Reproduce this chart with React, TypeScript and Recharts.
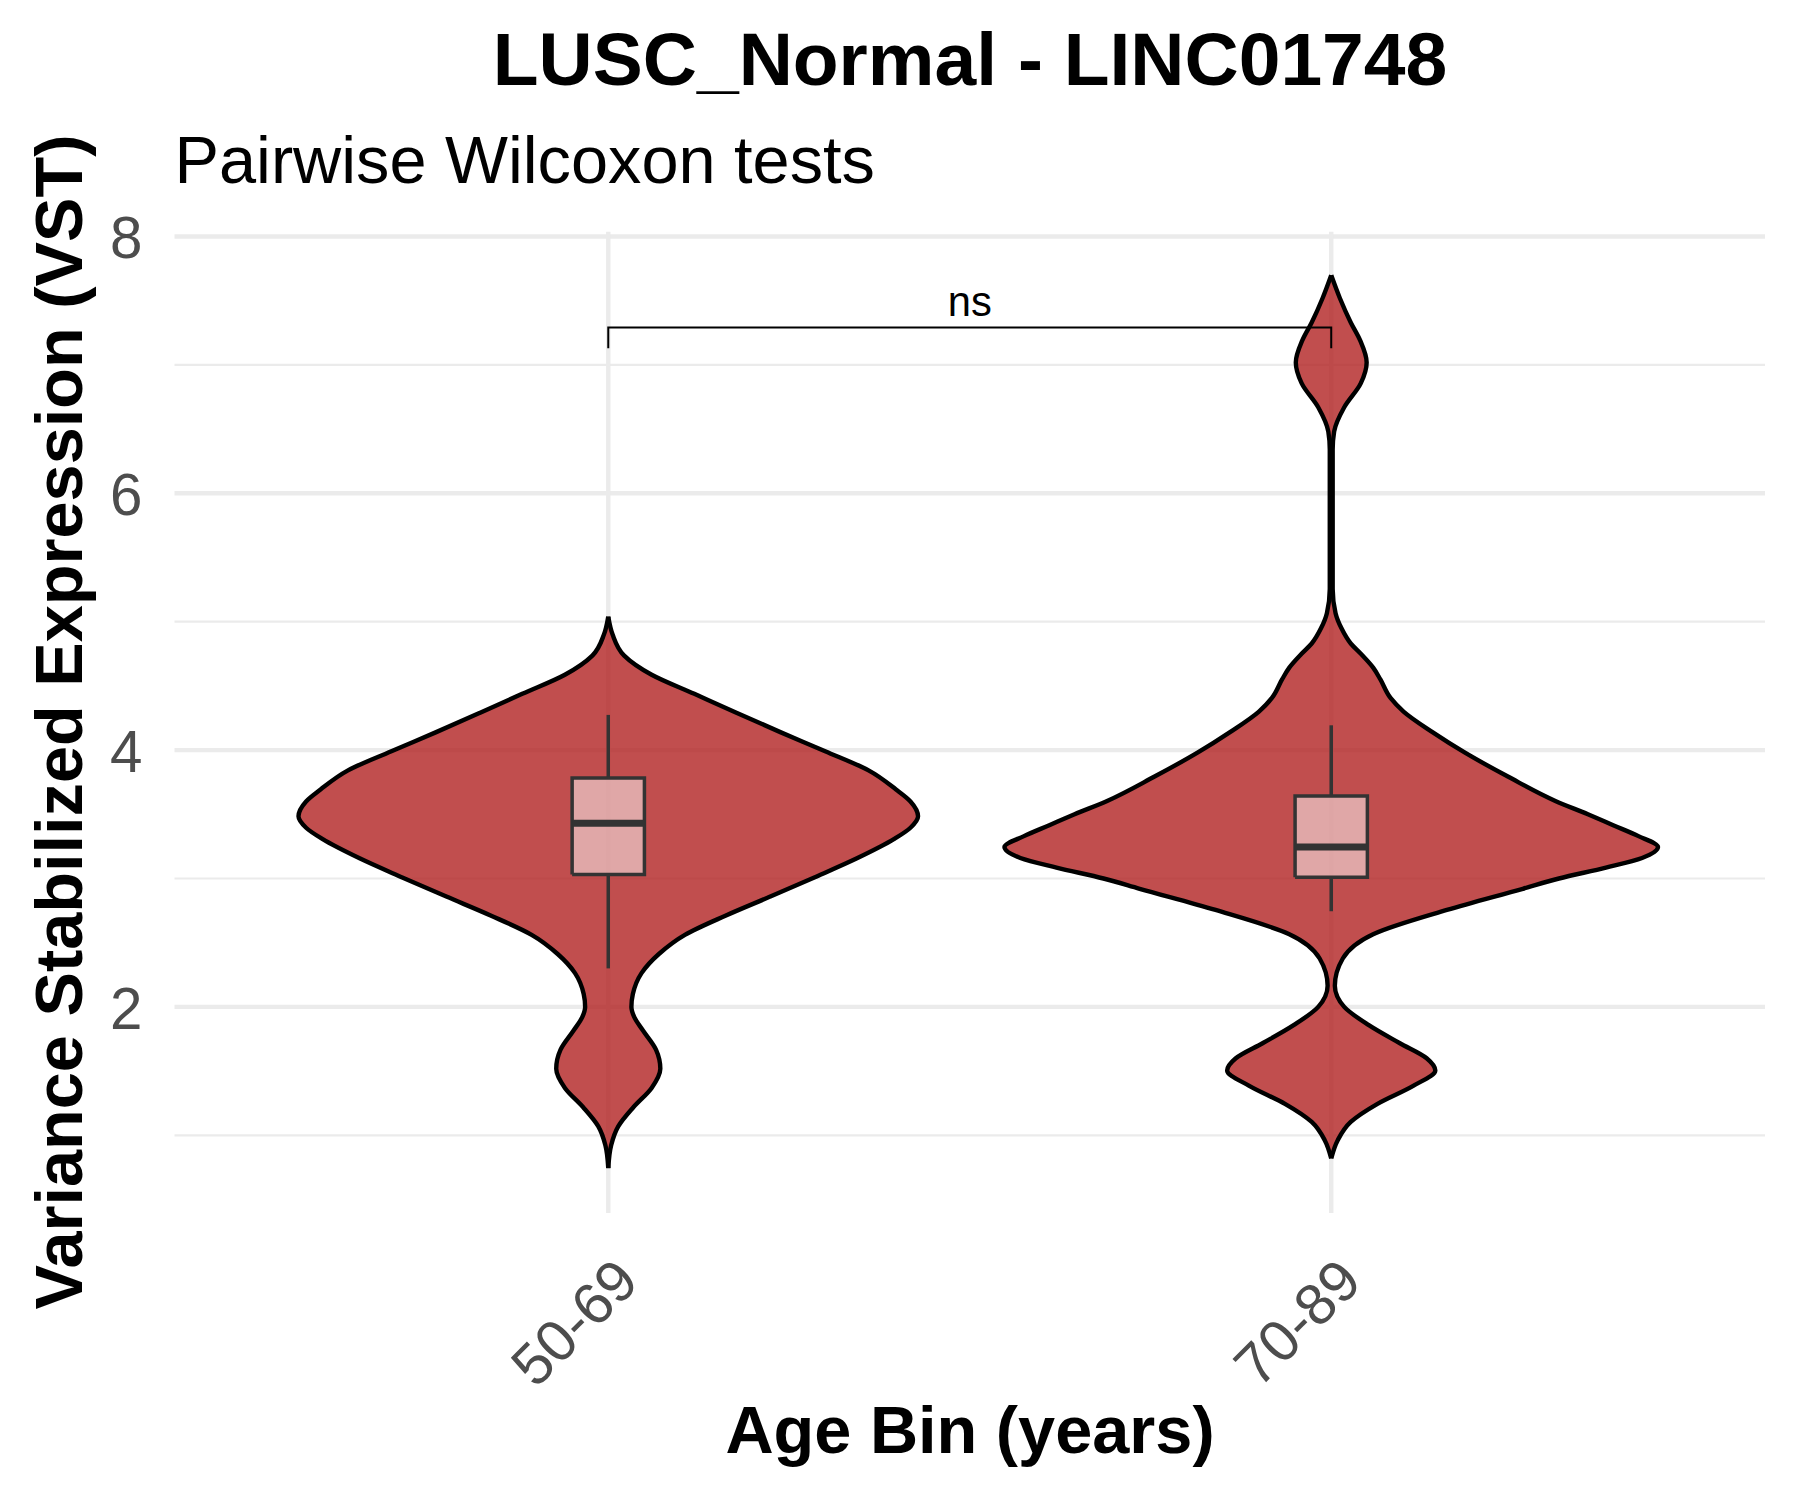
import React from 'react';
import {
  ComposedChart,
  Area,
  Line,
  XAxis,
  YAxis,
  CartesianGrid,
  ReferenceDot,
  Customized,
} from 'recharts';

// ---------- data ----------
const categories = ['50-69', '70-89'];
const categoryPositions = [1, 2];

const yTicks = [2, 4, 6, 8];
const yMinorTicks = [1, 3, 5, 7];

// violin outlines: expression value and half-width (in category units)
const violin1Values = [0.745, 0.922, 1.071, 1.22, 1.369, 1.518, 1.667, 1.816, 1.92, 2.0, 2.1, 2.263, 2.412, 2.561, 2.71, 2.859, 3.008, 3.157, 3.306, 3.395, 3.484, 3.6, 3.693, 3.842, 3.991, 4.14, 4.289, 4.438, 4.587, 4.736, 4.9, 5.04];
const violin1HalfWidths = [0, 0.004, 0.014, 0.035, 0.06, 0.072, 0.066, 0.048, 0.036, 0.032, 0.034, 0.046, 0.07, 0.106, 0.162, 0.224, 0.285, 0.344, 0.395, 0.418, 0.4285, 0.418, 0.398, 0.36, 0.3, 0.238, 0.178, 0.119, 0.06, 0.022, 0.006, 0];

const violin2Values = [0.82, 0.962, 1.104, 1.245, 1.387, 1.505, 1.6, 1.717, 1.858, 2.0, 2.165, 2.377, 2.566, 2.755, 2.92, 3.0, 3.085, 3.16, 3.245, 3.33, 3.415, 3.5, 3.604, 3.792, 3.98, 4.14, 4.3, 4.406, 4.55, 4.642, 4.75, 4.83, 4.95, 5.066, 5.255, 6.34, 6.48, 6.67, 6.858, 7.019, 7.19, 7.33, 7.519, 7.698];
const violin2HalfWidths = [0, 0.009, 0.027, 0.064, 0.114, 0.144, 0.132, 0.095, 0.052, 0.018, 0.005, 0.016, 0.058, 0.16, 0.265, 0.315, 0.38, 0.43, 0.452, 0.425, 0.39, 0.355, 0.31, 0.245, 0.185, 0.14, 0.1, 0.082, 0.068, 0.058, 0.041, 0.027, 0.014, 0.006, 0.002, 0.002, 0.004, 0.018, 0.041, 0.049, 0.04, 0.027, 0.012, 0];

// box plot statistics per group: [lower whisker, Q1, median, Q3, upper whisker]
const boxStats1 = [2.3, 3.032, 3.43, 3.782, 4.274];
const boxStats2 = [2.745, 3.009, 3.245, 3.642, 4.193];
const boxHalfWidth = 0.05;

// significance bracket
const bracketGroups = [1, 2];
const bracketLevels = [7.13, 7.29];
const bracketLabel = 'ns';

// ---------- styling ----------
const FONT = '"Liberation Sans", Arial, Helvetica, sans-serif';
const VIOLIN_FILL = '#B22222';
const GRID = '#EBEBEB';
const TICK_COLOR = '#4D4D4D';
const BOX_LINE = '#333333';

// ---------- derived tables ----------
const makeViolin = (values: number[], hws: number[], center: number) =>
  values.map((v, i) => ({ y: v, range: [center - hws[i], center + hws[i]] }));

const makeBoxFill = (s: number[], c: number) => [
  { y: s[1], box: [c - boxHalfWidth, c + boxHalfWidth] },
  { y: s[3], box: [c - boxHalfWidth, c + boxHalfWidth] },
];
const makeBoxOutline = (s: number[], c: number) => [
  { y: s[1], x: c - boxHalfWidth },
  { y: s[1], x: c + boxHalfWidth },
  { y: s[3], x: c + boxHalfWidth },
  { y: s[3], x: c - boxHalfWidth },
  { y: s[1], x: c - boxHalfWidth },
];
const makeLowerWhisker = (s: number[], c: number) => [
  { y: s[0], x: c },
  { y: s[1], x: c },
];
const makeUpperWhisker = (s: number[], c: number) => [
  { y: s[3], x: c },
  { y: s[4], x: c },
];
const makeMedian = (s: number[], c: number) => [
  { y: s[2], x: c - boxHalfWidth },
  { y: s[2], x: c + boxHalfWidth },
];

const violinData = [
  makeViolin(violin1Values, violin1HalfWidths, categoryPositions[0]),
  makeViolin(violin2Values, violin2HalfWidths, categoryPositions[1]),
];
const boxes = [boxStats1, boxStats2];

const bracketData = [
  { y: bracketLevels[0], x: bracketGroups[0] },
  { y: bracketLevels[1], x: bracketGroups[0] },
  { y: bracketLevels[1], x: bracketGroups[1] },
  { y: bracketLevels[0], x: bracketGroups[1] },
];

// ---------- custom ticks ----------
const XTick = (props: any) => {
  const { x, y, payload } = props;
  const idx = categoryPositions.indexOf(payload.value);
  const label = idx >= 0 ? categories[idx] : '';
  const ax = x + 33;
  const ay = y + 71;
  return (
    <text
      x={ax}
      y={ay}
      textAnchor="end"
      transform={`rotate(-45, ${ax}, ${ay})`}
      fontSize={58.3}
      fill={TICK_COLOR}
      fontFamily={FONT}
    >
      {label}
    </text>
  );
};

const YTick = (props: any) => {
  const { x, y, payload } = props;
  return (
    <text x={x} y={y} dy={22} textAnchor="end" fontSize={58.3} fill={TICK_COLOR} fontFamily={FONT}>
      {payload.value}
    </text>
  );
};

const Titles = () => (
  <g fontFamily={FONT}>
    <text x={970} y={85} textAnchor="middle" fontSize={75} fontWeight="bold" fill="#000">
      LUSC_Normal - LINC01748
    </text>
    <text x={174.5} y={183} textAnchor="start" fontSize={66.7} fill="#000">
      Pairwise Wilcoxon tests
    </text>
    <text x={970} y={1453} textAnchor="middle" fontSize={66.7} fontWeight="bold" fill="#000">
      Age Bin (years)
    </text>
    <text
      x={82}
      y={722}
      textAnchor="middle"
      fontSize={66.7}
      fontWeight="bold"
      fill="#000"
      transform="rotate(-90, 82, 722)"
    >
      Variance Stabilized Expression (VST)
    </text>
  </g>
);

export default function App() {
  return (
    <div style={{ position: 'absolute', left: 0, top: 0, width: 1800, height: 1500, background: '#fff' }}>
      <ComposedChart
        layout="vertical"
        width={1800}
        height={1500}
        margin={{ top: 231.7, right: 35, bottom: 0, left: 0 }}
      >
        <CartesianGrid
          horizontalValues={yMinorTicks}
          vertical={false}
          stroke={GRID}
          strokeWidth={2.2}
        />
        <CartesianGrid
          horizontalValues={yTicks}
          verticalValues={categoryPositions}
          stroke={GRID}
          strokeWidth={4.4}
        />
        <XAxis
          type="number"
          domain={[0.4, 2.6]}
          ticks={categoryPositions}
          allowDataOverflow
          axisLine={false}
          tickLine={false}
          tickSize={0}
          tickMargin={0}
          height={287}
          interval={0}
          tick={<XTick />}
        />
        <YAxis
          type="number"
          dataKey="y"
          domain={[0.395, 8.037]}
          ticks={yTicks}
          reversed
          allowDataOverflow
          axisLine={false}
          tickLine={false}
          tickSize={0}
          tickMargin={32}
          width={174.5}
          interval={0}
          tick={<YTick />}
        />
        {violinData.map((d, i) => (
          <Area
            key={`violin-${i}`}
            data={d}
            dataKey="range"
            type="monotone"
            fill={VIOLIN_FILL}
            fillOpacity={0.8}
            stroke="#000"
            strokeWidth={4.4}
            dot={false}
            activeDot={false}
            isAnimationActive={false}
          />
        ))}
        {boxes.map((s, i) => (
          <Area
            key={`boxfill-${i}`}
            data={makeBoxFill(s, categoryPositions[i])}
            dataKey="box"
            type="linear"
            fill="#FFFFFF"
            fillOpacity={0.5}
            stroke="none"
            dot={false}
            activeDot={false}
            isAnimationActive={false}
          />
        ))}
        {boxes.map((s, i) => (
          <Line
            key={`lw-${i}`}
            data={makeLowerWhisker(s, categoryPositions[i])}
            dataKey="x"
            type="linear"
            stroke={BOX_LINE}
            strokeWidth={3.5}
            dot={false}
            activeDot={false}
            isAnimationActive={false}
          />
        ))}
        {boxes.map((s, i) => (
          <Line
            key={`uw-${i}`}
            data={makeUpperWhisker(s, categoryPositions[i])}
            dataKey="x"
            type="linear"
            stroke={BOX_LINE}
            strokeWidth={3.5}
            dot={false}
            activeDot={false}
            isAnimationActive={false}
          />
        ))}
        {boxes.map((s, i) => (
          <Line
            key={`outline-${i}`}
            data={makeBoxOutline(s, categoryPositions[i])}
            dataKey="x"
            type="linear"
            stroke={BOX_LINE}
            strokeWidth={3.5}
            strokeLinejoin="miter"
            dot={false}
            activeDot={false}
            isAnimationActive={false}
          />
        ))}
        {boxes.map((s, i) => (
          <Line
            key={`median-${i}`}
            data={makeMedian(s, categoryPositions[i])}
            dataKey="x"
            type="linear"
            stroke={BOX_LINE}
            strokeWidth={7}
            strokeLinecap="butt"
            dot={false}
            activeDot={false}
            isAnimationActive={false}
          />
        ))}
        <Line
          data={bracketData}
          dataKey="x"
          type="linear"
          stroke="#000"
          strokeWidth={2}
          dot={false}
          activeDot={false}
          isAnimationActive={false}
        />
        <ReferenceDot
          x={(bracketGroups[0] + bracketGroups[1]) / 2}
          y={bracketLevels[1]}
          r={0}
          fill="none"
          stroke="none"
          label={{
            value: bracketLabel,
            position: 'top',
            offset: 11.6,
            fontSize: 41.7,
            fill: '#000',
            fontFamily: FONT,
          }}
        />
        <Customized component={Titles} />
      </ComposedChart>
    </div>
  );
}
